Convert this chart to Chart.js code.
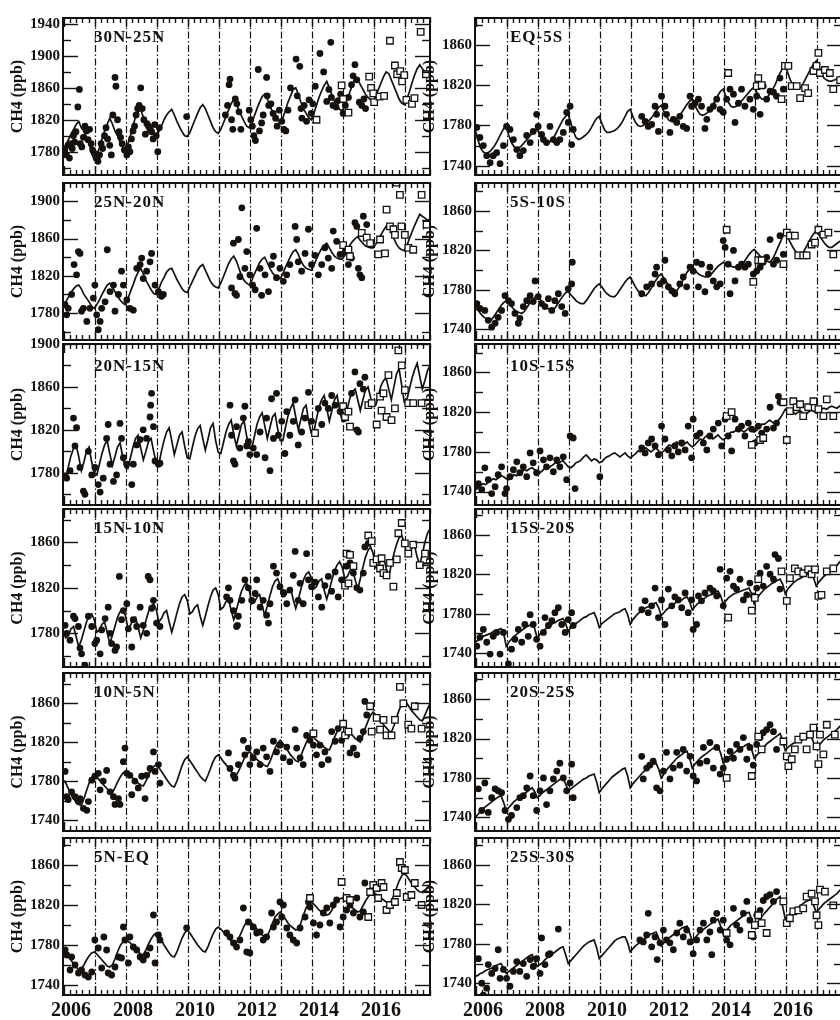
<!DOCTYPE html>
<html>
<head>
<meta charset="utf-8">
<script src="https://cdn.jsdelivr.net/npm/chart.js@4.4.1/dist/chart.umd.min.js"></script>
<style>
  html, body { margin: 0; padding: 0; background: #fff; width: 840px; height: 1020px; overflow: hidden; }
  #stage { position: relative; width: 840px; height: 1020px; overflow: hidden; }
  #stage canvas { position: absolute; }
</style>
</head>
<body>
<div id="stage"></div>
<script>
// ---- shared axis values -------------------------------------------------
const MODEL_START = 2005.75;               // first monthly model value (Oct 2005)
const xLabelYears = [2006, 2008, 2010, 2012, 2014, 2016];
const seasonLines = [2006.77, 2007.77, 2008.77, 2009.77, 2010.77, 2011.77, 2012.77, 2013.77, 2014.77, 2015.77, 2016.77];
const yTicksTall   = [1780, 1820, 1860, 1900, 1940];
const yTicksUpper  = [1780, 1820, 1860, 1900];
const yTicksShort  = [1780, 1820, 1860];
const yTicksLower  = [1740, 1780, 1820, 1860];

// ---- 30N-25N ------------------------------------------------------------
const model30N25N = [
  1783,1788,1795,1802,1808,1814,1818,1810,1806,1798,1790,1778,
  1770,1776,1785,1796,1806,1814,1822,1815,1806,1800,1792,1786,
  1782,1790,1800,1812,1824,1830,1833,1823,1815,1812,1808,1802,
  1799,1805,1812,1820,1826,1830,1833,1826,1818,1811,1805,1800,
  1799,1804,1812,1820,1828,1835,1839,1834,1826,1818,1810,1805,
  1803,1808,1816,1824,1832,1840,1846,1840,1832,1825,1818,1812,
  1810,1816,1825,1834,1842,1849,1852,1846,1838,1830,1824,1819,
  1816,1822,1832,1842,1850,1858,1860,1852,1842,1834,1828,1823,
  1820,1828,1838,1848,1856,1863,1868,1860,1851,1843,1837,1833,
  1831,1838,1846,1855,1864,1873,1870,1864,1858,1852,1848,1845,
  1843,1850,1858,1866,1874,1880,1878,1870,1862,1854,1846,1841,
  1839,1846,1855,1866,1876,1884,1889,1884,1880,1877,1876];
const dots30N25N = [
  [2005.80,1782],[2005.85,1776],[2005.90,1788],[2005.95,1772],[2006.00,1790],[2006.04,1784],[2006.08,1800],[2006.12,1792],
  [2006.16,1805],[2006.22,1836],[2006.27,1858],[2006.30,1790],[2006.35,1786],[2006.40,1798],[2006.45,1812],[2006.50,1806],
  [2006.55,1795],[2006.60,1808],[2006.65,1790],[2006.70,1782],[2006.75,1778],[2006.82,1772],[2006.87,1768],[2006.92,1776],
  [2006.97,1790],[2007.02,1784],[2007.08,1800],[2007.13,1810],[2007.18,1796],[2007.25,1788],[2007.30,1776],[2007.35,1826],
  [2007.42,1873],[2007.45,1862],[2007.50,1820],[2007.55,1805],[2007.60,1798],[2007.65,1790],[2007.72,1782],[2007.80,1776],
  [2007.85,1786],[2007.90,1780],[2007.95,1796],[2008.00,1806],[2008.05,1812],[2008.10,1826],[2008.15,1834],[2008.20,1838],
  [2008.25,1860],[2008.30,1834],[2008.35,1820],[2008.40,1802],[2008.45,1815],[2008.50,1812],[2008.55,1808],[2008.60,1805],
  [2008.65,1796],[2008.70,1814],[2008.75,1800],[2008.80,1780],[2008.85,1810],[2009.73,1824],
  [2010.98,1826],[2011.05,1838],[2011.10,1864],[2011.13,1871],[2011.18,1820],[2011.22,1808],[2011.30,1846],[2011.35,1840],
  [2011.42,1830],[2011.48,1808],[2011.75,1832],[2011.80,1820],[2011.85,1812],[2011.90,1800],[2011.95,1794],[2012.04,1883],
  [2012.08,1806],[2012.15,1816],[2012.20,1826],[2012.31,1873],[2012.33,1850],[2012.38,1838],[2012.45,1840],[2012.52,1828],
  [2012.60,1822],[2012.65,1812],[2012.72,1832],[2012.80,1818],[2012.87,1808],[2012.93,1806],[2013.00,1832],[2013.08,1860],
  [2013.26,1896],[2013.38,1887],[2013.30,1850],[2013.42,1834],[2013.45,1822],[2013.52,1838],[2013.60,1818],[2013.68,1845],
  [2013.75,1828],[2013.80,1840],[2013.88,1862],[2014.03,1903],[2014.38,1917],[2014.15,1880],[2014.25,1843],[2014.32,1858],
  [2014.40,1848],[2014.45,1838],[2014.55,1836],[2014.62,1844],[2014.70,1852],[2014.78,1828],[2014.85,1838],[2014.95,1848],
  [2015.05,1864],[2015.10,1875],[2015.16,1889],[2015.22,1870],[2015.30,1842],[2015.38,1838],[2015.45,1846],[2015.50,1834]];
const squares30N25N = [
  [2013.92,1820],[2014.73,1863],[2014.78,1846],[2014.95,1829],[2015.62,1874],[2015.68,1860],[2015.75,1853],[2015.78,1842],
  [2015.95,1849],[2016.29,1919],[2016.10,1850],[2016.45,1888],[2016.52,1877],[2016.62,1881],[2016.68,1868],[2016.75,1876],
  [2016.82,1845],[2017.00,1840],[2017.08,1847],[2017.28,1930],[2017.45,1877]];

// ---- 25N-20N ------------------------------------------------------------
const model25N20N = [
  1789,1792,1797,1802,1806,1809,1810,1806,1800,1796,1792,1787,
  1785,1789,1794,1800,1805,1810,1812,1808,1803,1798,1794,1791,
  1789,1795,1803,1810,1818,1824,1828,1822,1815,1810,1805,1801,
  1800,1806,1813,1818,1824,1827,1828,1822,1816,1811,1806,1803,
  1802,1808,1814,1820,1826,1830,1832,1826,1820,1814,1810,1808,
  1807,1812,1819,1826,1833,1838,1841,1836,1828,1820,1815,1812,
  1810,1815,1822,1828,1834,1838,1840,1834,1828,1823,1820,1818,
  1817,1822,1829,1835,1841,1846,1848,1843,1836,1831,1828,1827,
  1826,1831,1838,1844,1849,1853,1855,1850,1845,1841,1839,1838,
  1838,1842,1848,1853,1857,1860,1862,1858,1855,1852,1851,1850,
  1850,1854,1859,1864,1869,1873,1875,1868,1860,1854,1850,1848,
  1847,1852,1860,1867,1874,1880,1886,1884,1882,1880,1880];
const dots25N20N = [
  [2005.81,1789],[2005.86,1778],[2005.91,1785],[2006.02,1800],[2006.10,1832],[2006.18,1821],[2006.24,1846],[2006.29,1844],
  [2006.34,1782],[2006.40,1785],[2006.51,1771],[2006.61,1785],[2006.72,1796],[2006.77,1810],[2006.83,1778],[2006.88,1762],
  [2006.94,1771],[2006.99,1785],[2007.10,1792],[2007.17,1848],[2007.26,1803],[2007.37,1810],[2007.42,1782],[2007.53,1800],
  [2007.63,1825],[2007.69,1810],[2007.80,1794],[2007.90,1785],[2008.01,1783],[2008.12,1828],[2008.23,1832],[2008.28,1839],
  [2008.33,1817],[2008.44,1825],[2008.55,1835],[2008.60,1844],[2008.71,1810],[2008.82,1803],[2008.92,1798],[2008.98,1800],
  [2011.18,1807],[2011.29,1801],[2011.34,1799],[2011.24,1855],[2011.40,1859],[2011.45,1819],[2011.51,1893],[2011.61,1828],
  [2011.67,1846],[2011.77,1821],[2011.86,1810],[2011.94,1805],[2011.99,1871],[2012.10,1828],[2012.15,1799],[2012.26,1821],
  [2012.37,1803],[2012.47,1832],[2012.53,1841],[2012.63,1818],[2012.74,1828],[2012.85,1814],[2012.96,1821],[2013.06,1832],
  [2013.23,1873],[2013.28,1859],[2013.33,1835],[2013.44,1825],[2013.55,1844],[2013.66,1870],[2013.76,1832],[2013.87,1842],
  [2013.98,1821],[2014.09,1832],[2014.19,1850],[2014.30,1839],[2014.41,1828],[2014.46,1868],[2014.57,1857],[2014.68,1843],
  [2014.84,1846],[2014.95,1832],[2015.05,1839],[2015.16,1877],[2015.22,1873],[2015.27,1828],[2015.32,1821],[2015.38,1818],
  [2015.43,1884],[2015.54,1875]];
const squares25N20N = [
  [2014.78,1853],[2014.95,1848],[2015.00,1841],[2015.38,1866],[2015.54,1861],[2015.65,1855],[2015.91,1843],[2015.97,1859],
  [2016.13,1844],[2016.18,1891],[2016.29,1873],[2016.40,1870],[2016.45,1864],[2016.50,1920],[2016.61,1907],[2016.66,1873],
  [2016.77,1864],[2016.88,1850],[2017.04,1848],[2017.31,1907],[2017.47,1875]];

// ---- 20N-15N ------------------------------------------------------------
const model20N15N = [
  1778,1776,1786,1796,1803,1806,1795,1782,1790,1800,1804,1790,
  1780,1778,1788,1798,1806,1810,1798,1787,1795,1804,1808,1795,
  1785,1784,1794,1804,1812,1815,1803,1792,1800,1809,1812,1800,
  1789,1788,1800,1810,1818,1822,1810,1797,1806,1815,1818,1805,
  1794,1793,1804,1814,1821,1824,1812,1801,1811,1822,1826,1810,
  1799,1798,1808,1818,1825,1829,1816,1805,1815,1825,1828,1814,
  1803,1803,1814,1825,1832,1836,1824,1812,1822,1832,1835,1821,
  1810,1810,1822,1833,1840,1845,1832,1820,1830,1840,1843,1828,
  1817,1818,1830,1841,1848,1852,1840,1828,1838,1848,1852,1838,
  1828,1828,1840,1850,1856,1858,1848,1838,1848,1857,1860,1850,
  1842,1843,1852,1861,1866,1868,1858,1848,1860,1872,1877,1862,
  1846,1848,1858,1868,1876,1882,1870,1858,1866,1875,1880];
const dots20N15N = [
  [2005.81,1777],[2005.86,1775],[2005.97,1782],[2006.08,1831],[2006.13,1805],[2006.18,1822],[2006.29,1785],[2006.40,1763],
  [2006.45,1760],[2006.56,1800],[2006.67,1778],[2006.77,1785],[2006.88,1769],[2006.94,1762],[2007.04,1775],[2007.15,1812],
  [2007.20,1825],[2007.26,1788],[2007.37,1772],[2007.47,1778],[2007.58,1826],[2007.63,1812],[2007.69,1794],[2007.80,1788],
  [2007.96,1769],[2008.01,1788],[2008.12,1806],[2008.23,1811],[2008.33,1820],[2008.44,1812],[2008.55,1832],[2008.57,1843],
  [2008.60,1854],[2008.66,1823],[2008.71,1791],[2008.82,1788],[2008.87,1789],
  [2011.13,1843],[2011.18,1815],[2011.24,1791],[2011.29,1788],[2011.34,1823],[2011.45,1803],[2011.56,1831],[2011.61,1842],
  [2011.67,1805],[2011.72,1809],[2011.77,1797],[2011.88,1803],[2011.99,1797],[2012.10,1818],[2012.26,1794],[2012.31,1831],
  [2012.42,1782],[2012.47,1849],[2012.53,1812],[2012.63,1854],[2012.69,1815],[2012.80,1828],[2012.90,1798],[2012.96,1837],
  [2013.06,1815],[2013.17,1828],[2013.23,1848],[2013.33,1806],[2013.44,1818],[2013.55,1831],[2013.66,1855],[2013.76,1828],
  [2013.87,1818],[2013.98,1840],[2014.09,1825],[2014.19,1845],[2014.30,1840],[2014.41,1852],[2014.52,1843],[2014.68,1837],
  [2014.84,1831],[2014.95,1837],[2015.05,1854],[2015.16,1874],[2015.22,1820],[2015.27,1818],[2015.32,1863],[2015.43,1858],
  [2015.48,1869]];
const squares20N15N = [
  [2013.87,1817],[2014.78,1842],[2014.84,1832],[2014.95,1837],[2015.00,1823],[2015.59,1843],[2015.70,1845],[2015.86,1825],
  [2015.97,1851],[2016.02,1838],[2016.08,1854],[2016.18,1832],[2016.24,1871],[2016.34,1829],[2016.45,1840],[2016.56,1894],
  [2016.67,1880],[2016.77,1857],[2016.88,1845],[2017.04,1845],[2017.31,1845]];

// ---- 15N-10N ------------------------------------------------------------
const model15N10N = [
  1780,1776,1778,1784,1786,1777,1768,1774,1782,1790,1795,1797,
  1792,1781,1783,1788,1790,1781,1771,1778,1786,1794,1799,1801,
  1796,1785,1787,1792,1794,1785,1776,1783,1791,1799,1804,1806,
  1801,1790,1793,1798,1800,1790,1781,1789,1798,1806,1812,1814,
  1809,1797,1799,1803,1805,1795,1787,1795,1804,1812,1818,1820,
  1814,1801,1803,1808,1810,1800,1792,1800,1809,1817,1822,1824,
  1818,1806,1807,1812,1814,1804,1796,1804,1813,1821,1826,1828,
  1822,1812,1813,1818,1820,1810,1802,1810,1819,1827,1832,1834,
  1829,1819,1821,1826,1828,1818,1810,1818,1827,1835,1840,1843,
  1838,1828,1830,1835,1837,1827,1819,1828,1838,1847,1853,1856,
  1850,1838,1840,1845,1847,1837,1830,1840,1850,1858,1864,1866,
  1860,1848,1850,1855,1857,1847,1840,1850,1860,1868,1872];
const dots15N10N = [
  [2005.81,1787],[2005.86,1780],[2005.97,1774],[2006.08,1795],[2006.13,1793],[2006.24,1786],[2006.29,1767],[2006.34,1762],
  [2006.45,1752],[2006.56,1795],[2006.67,1786],[2006.77,1771],[2006.83,1774],[2006.94,1762],[2006.99,1783],[2007.10,1793],
  [2007.20,1803],[2007.26,1780],[2007.31,1771],[2007.42,1765],[2007.47,1768],[2007.56,1830],[2007.63,1792],[2007.69,1800],
  [2007.80,1806],[2007.85,1784],[2007.96,1768],[2008.01,1792],[2008.12,1786],[2008.23,1803],[2008.33,1787],[2008.44,1780],
  [2008.49,1830],[2008.55,1827],[2008.60,1802],[2008.66,1809],[2008.76,1789],[2008.87,1786],
  [2011.02,1812],[2011.08,1820],[2011.13,1809],[2011.24,1800],[2011.34,1786],[2011.37,1787],[2011.40,1795],[2011.51,1809],
  [2011.61,1827],[2011.72,1820],[2011.83,1809],[2011.94,1815],[2011.99,1827],[2012.10,1803],[2012.20,1809],[2012.31,1796],
  [2012.37,1789],[2012.42,1806],[2012.53,1839],[2012.63,1833],[2012.74,1821],[2012.85,1816],[2012.96,1806],[2013.06,1818],
  [2013.17,1831],[2013.23,1852],[2013.33,1809],[2013.39,1824],[2013.49,1806],[2013.60,1850],[2013.66,1827],[2013.76,1821],
  [2013.87,1825],[2013.98,1812],[2014.09,1803],[2014.19,1822],[2014.30,1830],[2014.41,1817],[2014.52,1834],[2014.62,1812],
  [2014.73,1827],[2014.89,1839],[2015.00,1842],[2015.11,1833],[2015.22,1820],[2015.32,1818],[2015.43,1833],[2015.48,1856],
  [2015.59,1859]];
const squares15N10N = [
  [2014.84,1822],[2014.89,1850],[2014.95,1824],[2015.00,1849],[2015.11,1839],[2015.59,1866],[2015.70,1861],[2015.75,1842],
  [2015.86,1845],[2015.97,1837],[2016.02,1846],[2016.08,1833],[2016.18,1831],[2016.29,1842],[2016.40,1821],[2016.51,1845],
  [2016.56,1868],[2016.67,1877],[2016.77,1859],[2016.88,1850],[2017.04,1858],[2017.25,1840],[2017.42,1850]];

// ---- 10N-5N -------------------------------------------------------------
const model10N5N = [
  1781,1778,1772,1766,1762,1758,1756,1755,1762,1770,1778,1784,
  1786,1784,1781,1778,1775,1772,1770,1768,1773,1779,1784,1788,
  1790,1788,1786,1783,1780,1778,1776,1775,1780,1786,1791,1795,
  1797,1794,1790,1786,1782,1778,1775,1774,1780,1788,1796,1802,
  1805,1801,1797,1793,1789,1785,1782,1780,1786,1793,1800,1805,
  1807,1804,1800,1797,1793,1790,1787,1786,1791,1797,1803,1808,
  1810,1808,1805,1802,1800,1798,1796,1795,1800,1807,1814,1819,
  1822,1819,1815,1811,1807,1804,1801,1800,1806,1813,1819,1824,
  1827,1825,1822,1820,1818,1815,1813,1812,1818,1825,1831,1836,
  1839,1836,1833,1830,1827,1824,1822,1820,1827,1835,1842,1848,
  1851,1848,1845,1841,1838,1835,1832,1830,1837,1845,1853,1859,
  1863,1860,1856,1852,1849,1846,1843,1842,1848,1854,1860];
const dots10N5N = [
  [2005.81,1790],[2005.86,1764],[2005.91,1761],[2006.02,1769],[2006.13,1764],[2006.24,1759],[2006.29,1762],[2006.40,1752],
  [2006.51,1750],[2006.56,1759],[2006.67,1781],[2006.77,1785],[2006.88,1788],[2006.94,1771],[2007.04,1780],[2007.15,1791],
  [2007.26,1769],[2007.37,1764],[2007.42,1756],[2007.53,1762],[2007.58,1756],[2007.69,1800],[2007.74,1814],[2007.80,1788],
  [2007.90,1786],[2007.96,1766],[2008.06,1780],[2008.17,1773],[2008.28,1785],[2008.39,1762],[2008.44,1786],[2008.55,1793],
  [2008.66,1810],[2008.71,1790],[2008.82,1797],[2008.87,1778],
  [2011.08,1809],[2011.13,1793],[2011.24,1786],[2011.29,1783],[2011.40,1797],[2011.56,1822],[2011.61,1807],[2011.72,1814],
  [2011.77,1797],[2011.88,1804],[2011.99,1810],[2012.10,1797],[2012.20,1814],[2012.31,1805],[2012.42,1790],[2012.53,1821],
  [2012.63,1810],[2012.74,1817],[2012.85,1804],[2012.96,1815],[2013.06,1800],[2013.23,1833],[2013.28,1814],[2013.39,1804],
  [2013.49,1797],[2013.60,1827],[2013.71,1822],[2013.82,1817],[2013.92,1807],[2014.03,1817],[2014.09,1797],[2014.19,1810],
  [2014.30,1802],[2014.41,1831],[2014.52,1821],[2014.62,1834],[2014.73,1822],[2014.89,1827],[2015.00,1809],[2015.11,1814],
  [2015.22,1807],[2015.32,1824],[2015.43,1831],[2015.48,1862],[2015.54,1848]];
const squares10N5N = [
  [2013.82,1829],[2014.78,1839],[2014.84,1827],[2014.95,1831],[2015.65,1857],[2015.70,1831],[2015.86,1845],[2015.97,1833],
  [2016.08,1843],[2016.18,1827],[2016.34,1827],[2016.45,1843],[2016.61,1877],[2016.72,1860],[2016.88,1838],[2016.98,1834],
  [2017.09,1857],[2017.31,1834]];

// ---- 5N-EQ --------------------------------------------------------------
const model5NEQ = [
  1778,1775,1770,1765,1761,1758,1755,1756,1760,1765,1769,1772,
  1773,1771,1768,1765,1762,1759,1758,1760,1766,1773,1779,1783,
  1785,1784,1782,1779,1776,1773,1771,1770,1775,1781,1786,1790,
  1792,1789,1785,1780,1776,1772,1769,1768,1773,1780,1787,1792,
  1795,1792,1788,1784,1780,1777,1774,1773,1778,1785,1791,1796,
  1798,1796,1793,1790,1787,1784,1782,1782,1787,1793,1799,1803,
  1805,1802,1799,1796,1793,1790,1788,1789,1795,1802,1808,1811,
  1813,1810,1806,1802,1799,1797,1795,1796,1802,1810,1817,1821,
  1823,1821,1818,1815,1813,1811,1810,1811,1815,1820,1824,1826,
  1827,1825,1822,1819,1817,1815,1813,1814,1819,1824,1828,1831,
  1832,1831,1829,1827,1825,1823,1822,1824,1830,1837,1844,1849,
  1852,1849,1845,1841,1838,1835,1833,1833,1835,1837,1838];
const dots5NEQ = [
  [2005.81,1775],[2005.86,1770],[2005.97,1755],[2006.02,1768],[2006.13,1760],[2006.24,1752],[2006.34,1755],[2006.45,1750],
  [2006.56,1748],[2006.67,1753],[2006.77,1785],[2006.88,1777],[2006.99,1757],[2007.06,1788],[2007.15,1775],[2007.20,1752],
  [2007.31,1750],[2007.42,1758],[2007.53,1768],[2007.63,1767],[2007.69,1798],[2007.74,1785],[2007.85,1762],[2007.90,1788],
  [2008.01,1778],[2008.12,1775],[2008.23,1768],[2008.33,1765],[2008.44,1770],[2008.55,1777],[2008.66,1810],[2008.71,1762],
  [2008.82,1790],[2008.87,1785],[2009.73,1797],
  [2011.02,1792],[2011.13,1788],[2011.24,1782],[2011.34,1778],[2011.45,1785],[2011.56,1817],[2011.67,1773],[2011.72,1803],
  [2011.77,1772],[2011.88,1798],[2011.99,1792],[2012.10,1793],[2012.20,1785],[2012.31,1788],[2012.47,1812],[2012.53,1798],
  [2012.63,1803],[2012.74,1823],[2012.80,1808],[2012.85,1820],[2012.96,1797],[2013.06,1790],[2013.17,1785],[2013.28,1782],
  [2013.39,1797],[2013.55,1808],[2013.66,1823],[2013.71,1818],[2013.82,1802],[2013.92,1790],[2014.03,1800],[2014.14,1812],
  [2014.25,1817],[2014.35,1802],[2014.46,1820],[2014.57,1825],[2014.68,1798],[2014.78,1808],[2014.89,1815],[2015.00,1820],
  [2015.11,1812],[2015.22,1827],[2015.32,1808],[2015.43,1813],[2015.48,1842]];
const squares5NEQ = [
  [2013.71,1827],[2014.73,1843],[2014.89,1827],[2015.00,1825],[2015.59,1808],[2015.65,1833],[2015.75,1840],[2015.86,1837],
  [2015.91,1827],[2016.02,1842],[2016.08,1838],[2016.18,1815],[2016.29,1820],[2016.45,1823],[2016.51,1832],[2016.61,1863],
  [2016.67,1857],[2016.77,1855],[2016.83,1828],[2016.98,1830],[2017.09,1842],[2017.31,1820]];

// ---- EQ-5S --------------------------------------------------------------
const modelEQ5S = [
  1776,1766,1758,1754,1752,1753,1755,1758,1762,1767,1772,1777,
  1779,1770,1763,1759,1757,1758,1760,1763,1766,1769,1772,1775,
  1776,1771,1766,1763,1762,1764,1767,1771,1776,1781,1786,1789,
  1791,1782,1774,1768,1766,1767,1769,1771,1774,1778,1783,1787,
  1789,1782,1776,1773,1773,1774,1775,1777,1780,1784,1789,1794,
  1796,1789,1783,1780,1779,1780,1782,1784,1787,1790,1794,1798,
  1800,1794,1789,1785,1784,1785,1787,1790,1793,1797,1801,1804,
  1806,1800,1795,1791,1790,1791,1793,1797,1801,1805,1810,1814,
  1816,1809,1803,1799,1798,1799,1801,1804,1807,1810,1813,1816,
  1818,1813,1809,1806,1806,1808,1811,1815,1820,1826,1832,1837,
  1839,1832,1825,1820,1817,1816,1818,1822,1827,1832,1837,1841,
  1844,1838,1832,1827,1825,1824,1824,1825,1826,1828,1830];
const dotsEQ5S = [
  [2005.80,1778],[2005.90,1768],[2006.01,1760],[2006.12,1750],[2006.23,1743],[2006.33,1750],[2006.44,1753],[2006.55,1742],
  [2006.66,1760],[2006.76,1779],[2006.87,1776],[2006.98,1766],[2007.09,1756],[2007.19,1750],[2007.30,1755],[2007.41,1770],
  [2007.52,1763],[2007.62,1774],[2007.73,1791],[2007.78,1779],[2007.89,1771],[2007.95,1766],[2008.05,1763],[2008.16,1779],
  [2008.27,1766],[2008.38,1763],[2008.48,1766],[2008.59,1773],[2008.70,1793],[2008.75,1783],[2008.81,1799],[2008.86,1761],
  [2008.91,1776],
  [2011.12,1789],[2011.23,1784],[2011.33,1779],[2011.44,1781],[2011.55,1799],[2011.60,1791],[2011.66,1774],[2011.76,1809],
  [2011.87,1799],[2011.92,1791],[2012.03,1773],[2012.14,1786],[2012.25,1783],[2012.35,1789],[2012.46,1779],[2012.57,1777],
  [2012.68,1809],[2012.73,1799],[2012.84,1802],[2012.95,1806],[2013.05,1799],[2013.16,1777],[2013.22,1786],[2013.32,1796],
  [2013.43,1799],[2013.54,1806],[2013.65,1796],[2013.75,1793],[2013.86,1806],[2013.97,1816],[2014.08,1811],[2014.13,1783],
  [2014.24,1802],[2014.34,1816],[2014.45,1799],[2014.61,1806],[2014.72,1796],[2014.83,1809],[2014.94,1791],[2015.04,1819],
  [2015.15,1806],[2015.26,1814],[2015.37,1813],[2015.47,1809],[2015.58,1827],[2015.69,1816]];
const squaresEQ5S = [
  [2013.91,1832],[2014.83,1819],[2014.88,1827],[2014.99,1820],[2015.63,1806],[2015.74,1839],[2015.85,1839],[2015.96,1819],
  [2016.12,1819],[2016.23,1807],[2016.39,1817],[2016.49,1812],[2016.66,1834],[2016.76,1839],[2016.82,1852],[2016.87,1832],
  [2017.03,1835],[2017.19,1832],[2017.30,1816],[2017.52,1825]];

// ---- 5S-10S -------------------------------------------------------------
const model5S10S = [
  1764,1760,1756,1753,1751,1750,1749,1752,1756,1760,1764,1767,
  1769,1766,1763,1760,1758,1757,1756,1758,1762,1766,1769,1772,
  1774,1771,1767,1764,1761,1760,1759,1762,1766,1770,1774,1777,
  1778,1775,1772,1769,1767,1766,1766,1769,1773,1777,1781,1784,
  1786,1783,1779,1776,1774,1773,1773,1776,1780,1784,1788,1791,
  1793,1788,1783,1779,1776,1775,1774,1777,1781,1786,1790,1794,
  1796,1792,1788,1784,1781,1780,1779,1783,1788,1793,1798,1801,
  1803,1800,1797,1795,1794,1793,1793,1795,1798,1801,1804,1806,
  1808,1806,1805,1804,1803,1803,1803,1805,1808,1812,1816,1819,
  1821,1818,1815,1812,1810,1809,1808,1811,1816,1822,1828,1834,
  1838,1833,1828,1823,1819,1816,1815,1818,1823,1828,1833,1837,
  1840,1836,1832,1828,1825,1823,1823,1825,1827,1829,1830];
const dots5S10S = [
  [2005.80,1766],[2005.90,1761],[2006.06,1759],[2006.17,1749],[2006.28,1742],[2006.39,1746],[2006.49,1752],[2006.60,1759],
  [2006.71,1774],[2006.82,1769],[2006.92,1766],[2007.03,1756],[2007.14,1746],[2007.19,1751],[2007.30,1763],[2007.41,1769],
  [2007.52,1774],[2007.62,1768],[2007.68,1789],[2007.78,1773],[2007.89,1766],[2008.00,1763],[2008.11,1771],[2008.22,1759],
  [2008.32,1769],[2008.43,1776],[2008.54,1763],[2008.65,1756],[2008.75,1781],[2008.86,1786],[2008.88,1808],
  [2011.12,1776],[2011.28,1783],[2011.44,1786],[2011.55,1796],[2011.60,1803],[2011.71,1786],[2011.82,1789],[2011.87,1810],
  [2011.98,1783],[2012.09,1779],[2012.19,1776],[2012.35,1786],[2012.46,1793],[2012.57,1783],[2012.68,1803],[2012.78,1799],
  [2012.89,1808],[2012.95,1783],[2013.05,1806],[2013.16,1778],[2013.27,1796],[2013.32,1803],[2013.43,1789],[2013.54,1783],
  [2013.65,1786],[2013.75,1830],[2013.81,1823],[2013.91,1806],[2013.97,1776],[2014.08,1820],[2014.13,1789],[2014.24,1803],
  [2014.34,1806],[2014.45,1803],[2014.56,1806],[2014.72,1796],[2014.83,1799],[2014.94,1803],[2015.04,1808],[2015.15,1813],
  [2015.26,1831],[2015.37,1806],[2015.47,1810],[2015.58,1835],[2015.69,1816]];
const squares5S10S = [
  [2013.86,1841],[2014.72,1788],[2014.88,1810],[2014.99,1810],[2015.69,1806],[2015.80,1838],[2015.90,1835],[2016.06,1835],
  [2016.17,1815],[2016.33,1815],[2016.44,1815],[2016.60,1826],[2016.71,1828],[2016.82,1841],[2016.98,1836],[2017.14,1838],
  [2017.30,1816]];

// ---- 10S-15S ------------------------------------------------------------
const model10S15S = [
  1745,1744,1746,1748,1747,1749,1751,1753,1752,1754,1756,1755,
  1753,1752,1754,1757,1756,1758,1760,1762,1761,1763,1764,1762,
  1760,1759,1761,1764,1763,1765,1767,1769,1768,1770,1771,1768,
  1765,1764,1766,1769,1770,1772,1775,1777,1774,1771,1773,1772,
  1769,1770,1773,1775,1776,1778,1779,1777,1775,1777,1779,1776,
  1774,1776,1778,1781,1780,1782,1784,1782,1780,1782,1784,1781,
  1779,1781,1784,1787,1786,1788,1790,1788,1786,1788,1790,1787,
  1785,1787,1790,1793,1792,1795,1797,1795,1793,1795,1797,1794,
  1792,1794,1797,1800,1800,1802,1804,1802,1800,1802,1804,1801,
  1800,1802,1805,1808,1808,1810,1812,1810,1808,1811,1814,1818,
  1823,1821,1819,1820,1818,1820,1821,1819,1818,1820,1822,1821,
  1819,1821,1823,1824,1823,1825,1826,1825,1824,1826,1828];
const dots10S15S = [
  [2005.76,1745],[2005.85,1748],[2005.96,1742],[2006.06,1764],[2006.17,1752],[2006.28,1738],[2006.39,1745],[2006.49,1757],
  [2006.60,1765],[2006.71,1738],[2006.76,1743],[2006.87,1755],[2006.98,1762],[2007.09,1770],[2007.19,1759],[2007.30,1765],
  [2007.41,1755],[2007.52,1779],[2007.62,1769],[2007.73,1759],[2007.84,1781],[2007.95,1772],[2008.05,1765],[2008.16,1774],
  [2008.27,1760],[2008.38,1772],[2008.48,1765],[2008.59,1775],[2008.70,1752],[2008.81,1796],[2008.91,1794],[2008.97,1743],
  [2009.77,1755],
  [2011.12,1784],[2011.23,1779],[2011.33,1789],[2011.44,1793],[2011.55,1786],[2011.66,1777],[2011.76,1806],[2011.87,1793],
  [2011.98,1782],[2012.09,1776],[2012.19,1786],[2012.30,1780],[2012.41,1789],[2012.52,1782],[2012.62,1806],[2012.73,1774],
  [2012.78,1813],[2012.89,1796],[2013.00,1799],[2013.11,1789],[2013.22,1782],[2013.32,1796],[2013.43,1803],[2013.59,1809],
  [2013.70,1786],[2013.81,1813],[2013.91,1796],[2014.02,1781],[2014.13,1813],[2014.24,1803],[2014.34,1806],[2014.45,1796],
  [2014.56,1809],[2014.67,1803],[2014.77,1789],[2014.88,1806],[2014.99,1799],[2015.15,1803],[2015.26,1825],[2015.37,1804],
  [2015.47,1809],[2015.53,1836],[2015.58,1830]];
const squares10S15S = [
  [2013.86,1816],[2014.02,1820],[2014.67,1787],[2014.94,1792],[2015.04,1794],[2015.69,1830],[2015.80,1792],[2015.90,1821],
  [2016.01,1831],[2016.12,1825],[2016.23,1828],[2016.33,1816],[2016.49,1825],[2016.66,1831],[2016.82,1823],[2016.98,1816],
  [2017.09,1833],[2017.30,1816]];

// ---- 15S-20S ------------------------------------------------------------
const model15S20S = [
  1751,1753,1755,1757,1758,1759,1760,1762,1763,1764,1765,1760,
  1747,1751,1754,1757,1759,1761,1763,1765,1767,1768,1770,1765,
  1755,1759,1762,1764,1766,1768,1770,1771,1773,1774,1775,1770,
  1762,1766,1768,1770,1772,1774,1776,1777,1779,1780,1781,1775,
  1766,1770,1772,1774,1776,1778,1780,1781,1782,1784,1785,1779,
  1769,1774,1777,1780,1782,1784,1786,1787,1788,1790,1791,1786,
  1778,1781,1784,1786,1788,1790,1792,1793,1794,1796,1797,1792,
  1784,1787,1790,1792,1794,1796,1798,1799,1800,1802,1803,1798,
  1790,1793,1796,1798,1800,1801,1802,1803,1804,1805,1806,1800,
  1790,1795,1799,1802,1805,1807,1809,1811,1812,1814,1815,1810,
  1800,1805,1808,1811,1813,1815,1816,1818,1819,1821,1822,1816,
  1808,1812,1815,1818,1820,1822,1824,1826,1829,1832,1835];
const dots15S20S = [
  [2005.80,1747],[2005.90,1756],[2006.01,1764],[2006.12,1751],[2006.23,1739],[2006.33,1757],[2006.44,1761],[2006.55,1739],
  [2006.66,1761],[2006.82,1729],[2006.92,1744],[2007.03,1754],[2007.14,1764],[2007.25,1751],[2007.35,1769],[2007.46,1757],
  [2007.52,1779],[2007.62,1769],[2007.73,1754],[2007.84,1747],[2007.95,1761],[2008.00,1776],[2008.11,1768],[2008.22,1773],
  [2008.32,1781],[2008.43,1786],[2008.54,1769],[2008.65,1761],[2008.75,1774],[2008.86,1781],[2008.91,1768],
  [2011.12,1784],[2011.23,1793],[2011.33,1781],[2011.44,1788],[2011.55,1806],[2011.66,1776],[2011.76,1794],[2011.87,1769],
  [2011.98,1805],[2012.09,1788],[2012.19,1797],[2012.30,1794],[2012.41,1786],[2012.52,1801],[2012.62,1781],[2012.73,1794],
  [2012.78,1764],[2012.89,1769],[2012.95,1798],[2013.05,1793],[2013.16,1801],[2013.32,1806],[2013.43,1803],[2013.54,1798],
  [2013.65,1825],[2013.75,1788],[2013.86,1816],[2013.97,1823],[2014.08,1808],[2014.18,1805],[2014.29,1815],[2014.40,1794],
  [2014.51,1799],[2014.61,1811],[2014.72,1798],[2014.83,1806],[2014.94,1821],[2015.04,1808],[2015.15,1828],[2015.26,1820],
  [2015.37,1815],[2015.42,1840],[2015.53,1836],[2015.58,1805]];
const squares15S20S = [
  [2013.91,1776],[2014.67,1783],[2014.77,1796],[2014.88,1815],[2015.63,1823],[2015.80,1793],[2015.90,1816],[2016.06,1826],
  [2016.17,1823],[2016.33,1821],[2016.49,1825],[2016.60,1820],[2016.71,1825],[2016.82,1798],[2016.92,1799],[2017.09,1823],
  [2017.30,1826]];

// ---- 20S-25S ------------------------------------------------------------
const model20S25S = [
  1740,1743,1746,1749,1751,1753,1755,1757,1759,1761,1762,1755,
  1747,1750,1753,1756,1758,1760,1762,1764,1766,1768,1770,1766,
  1760,1762,1765,1767,1769,1771,1773,1775,1777,1779,1780,1774,
  1767,1769,1771,1773,1775,1777,1779,1780,1782,1783,1784,1776,
  1765,1769,1772,1775,1778,1781,1783,1785,1787,1789,1790,1782,
  1770,1774,1777,1780,1783,1786,1788,1790,1792,1794,1795,1789,
  1780,1784,1788,1791,1794,1797,1800,1802,1804,1806,1807,1800,
  1790,1794,1797,1800,1802,1804,1806,1808,1810,1811,1812,1805,
  1795,1798,1801,1803,1805,1807,1809,1811,1812,1814,1815,1809,
  1800,1803,1806,1809,1812,1815,1817,1819,1821,1823,1825,1818,
  1808,1811,1813,1815,1816,1817,1818,1819,1820,1821,1822,1816,
  1810,1813,1816,1819,1821,1823,1825,1827,1829,1832,1834];
const dots20S25S = [
  [2005.85,1769],[2005.96,1747],[2006.06,1775],[2006.17,1745],[2006.28,1760],[2006.39,1769],[2006.49,1767],[2006.60,1765],
  [2006.71,1747],[2006.82,1738],[2006.92,1742],[2007.09,1750],[2007.19,1760],[2007.30,1762],[2007.41,1770],[2007.52,1782],
  [2007.62,1762],[2007.73,1747],[2007.84,1767],[2007.95,1780],[2008.05,1753],[2008.16,1767],[2008.27,1779],[2008.38,1787],
  [2008.48,1795],[2008.59,1780],[2008.70,1767],[2008.81,1775],[2008.86,1794],[2008.91,1760],
  [2011.12,1802],[2011.17,1779],[2011.28,1790],[2011.38,1793],[2011.49,1797],[2011.60,1770],[2011.71,1767],[2011.82,1787],
  [2011.92,1806],[2012.03,1779],[2012.14,1790],[2012.25,1806],[2012.35,1793],[2012.46,1809],[2012.57,1787],[2012.68,1802],
  [2012.78,1782],[2012.89,1777],[2013.00,1795],[2013.11,1811],[2013.22,1797],[2013.32,1816],[2013.43,1790],[2013.54,1811],
  [2013.65,1784],[2013.75,1790],[2013.86,1799],[2013.97,1807],[2014.08,1800],[2014.18,1814],[2014.29,1809],[2014.40,1821],
  [2014.51,1799],[2014.61,1811],[2014.72,1793],[2014.83,1814],[2014.94,1821],[2015.04,1826],[2015.15,1829],[2015.26,1834],
  [2015.37,1827],[2015.47,1809]];
const squares20S25S = [
  [2013.86,1780],[2014.67,1782],[2014.88,1822],[2014.99,1809],[2015.69,1817],[2015.80,1802],[2015.85,1792],[2015.96,1799],
  [2016.06,1809],[2016.17,1819],[2016.33,1822],[2016.44,1809],[2016.55,1824],[2016.66,1831],[2016.76,1812],[2016.82,1794],
  [2016.87,1824],[2016.98,1804],[2017.09,1834],[2017.35,1824]];

// ---- 25S-30S ------------------------------------------------------------
const model25S30S = [
  1747,1748,1750,1751,1753,1754,1755,1756,1758,1759,1760,1755,
  1750,1752,1754,1756,1758,1760,1762,1764,1766,1768,1769,1763,
  1757,1759,1761,1764,1766,1768,1770,1772,1774,1776,1777,1769,
  1760,1763,1766,1769,1772,1775,1778,1780,1782,1783,1784,1776,
  1765,1768,1771,1774,1777,1780,1783,1785,1786,1787,1787,1781,
  1772,1775,1778,1780,1782,1784,1786,1788,1790,1791,1792,1786,
  1778,1781,1784,1786,1788,1790,1792,1794,1796,1797,1798,1791,
  1783,1786,1789,1792,1794,1796,1798,1800,1802,1804,1805,1798,
  1790,1793,1796,1799,1801,1803,1805,1807,1809,1811,1812,1805,
  1797,1800,1804,1808,1811,1814,1817,1820,1823,1826,1828,1818,
  1805,1808,1811,1813,1815,1817,1819,1821,1823,1824,1825,1819,
  1812,1815,1818,1821,1823,1825,1827,1829,1831,1834,1836];
const dots25S30S = [
  [2005.85,1765],[2005.96,1740],[2006.01,1728],[2006.12,1735],[2006.17,1759],[2006.28,1750],[2006.39,1755],[2006.49,1774],
  [2006.55,1745],[2006.66,1754],[2006.76,1745],[2006.87,1737],[2006.98,1752],[2007.09,1762],[2007.19,1752],[2007.30,1760],
  [2007.41,1747],[2007.52,1764],[2007.62,1757],[2007.73,1765],[2007.84,1750],[2007.89,1786],[2008.00,1759],[2008.11,1769],
  [2008.16,1770],[2008.43,1795],
  [2011.06,1784],[2011.17,1782],[2011.28,1789],[2011.33,1811],[2011.44,1777],[2011.55,1787],[2011.62,1764],[2011.71,1781],
  [2011.82,1794],[2011.92,1784],[2012.03,1781],[2012.14,1774],[2012.25,1791],[2012.35,1801],[2012.46,1787],[2012.57,1794],
  [2012.68,1782],[2012.78,1770],[2012.89,1784],[2013.00,1794],[2013.11,1801],[2013.22,1784],[2013.32,1792],[2013.38,1769],
  [2013.43,1804],[2013.54,1811],[2013.65,1794],[2013.75,1804],[2013.86,1784],[2013.97,1779],[2014.08,1816],[2014.18,1799],
  [2014.29,1794],[2014.40,1811],[2014.51,1823],[2014.61,1804],[2014.72,1787],[2014.83,1809],[2014.94,1814],[2015.04,1824],
  [2015.15,1828],[2015.26,1830],[2015.37,1823],[2015.47,1833]];
const squares25S30S = [
  [2013.86,1791],[2014.67,1789],[2014.77,1799],[2014.88,1809],[2014.99,1801],[2015.15,1791],[2015.69,1823],[2015.80,1801],
  [2015.90,1806],[2016.01,1813],[2016.17,1814],[2016.33,1816],[2016.44,1828],[2016.60,1831],[2016.71,1823],[2016.76,1809],
  [2016.82,1799],[2016.87,1835],[2017.03,1833],[2017.30,1819]];

// ---- layout & drawing ---------------------------------------------------
const FONT = "'Liberation Serif', 'Times New Roman', 'DejaVu Serif', serif";
const INK = '#14110e';
const XMIN = 2005.742, XMAX = 2017.581;
const rowFrames = [[18, 175], [183, 340], [344, 505], [509, 667], [673, 831], [838, 995]];
const colLefts = [0, 412];
const CANVAS_W = 440, AXIS_W = 63, PAD_R = 10, PAD_TB = 16, XAXIS_H = 28;

const panels = [
  { label: '30N-25N', col: 0, row: 0, yMin: 1750.8, yMax: 1947.5, yTicks: yTicksTall,  model: model30N25N, dots: dots30N25N, squares: squares30N25N },
  { label: '25N-20N', col: 0, row: 1, yMin: 1751.0, yMax: 1919.7, yTicks: yTicksUpper, model: model25N20N, dots: dots25N20N, squares: squares25N20N },
  { label: '20N-15N', col: 0, row: 2, yMin: 1750.0, yMax: 1900.0, yTicks: yTicksUpper, model: model20N15N, dots: dots20N15N, squares: squares20N15N },
  { label: '15N-10N', col: 0, row: 3, yMin: 1750.4, yMax: 1889.3, yTicks: yTicksShort, model: model15N10N, dots: dots15N10N, squares: squares15N10N },
  { label: '10N-5N',  col: 0, row: 4, yMin: 1728.7, yMax: 1891.2, yTicks: yTicksLower, model: model10N5N,  dots: dots10N5N,  squares: squares10N5N },
  { label: '5N-EQ',   col: 0, row: 5, yMin: 1730.0, yMax: 1887.0, yTicks: yTicksLower, model: model5NEQ,   dots: dots5NEQ,   squares: squares5NEQ },
  { label: 'EQ-5S',   col: 1, row: 0, yMin: 1730.8, yMax: 1886.6, yTicks: yTicksLower, model: modelEQ5S,   dots: dotsEQ5S,   squares: squaresEQ5S },
  { label: '5S-10S',  col: 1, row: 1, yMin: 1729.0, yMax: 1888.5, yTicks: yTicksLower, model: model5S10S,  dots: dots5S10S,  squares: squares5S10S },
  { label: '10S-15S', col: 1, row: 2, yMin: 1726.5, yMax: 1888.7, yTicks: yTicksLower, model: model10S15S, dots: dots10S15S, squares: squares10S15S },
  { label: '15S-20S', col: 1, row: 3, yMin: 1725.9, yMax: 1886.2, yTicks: yTicksLower, model: model15S20S, dots: dots15S20S, squares: squares15S20S },
  { label: '20S-25S', col: 1, row: 4, yMin: 1726.2, yMax: 1886.5, yTicks: yTicksLower, model: model20S25S, dots: dots20S25S, squares: squares20S25S },
  { label: '25S-30S', col: 1, row: 5, yMin: 1728.1, yMax: 1887.4, yTicks: yTicksLower, model: model25S30S, dots: dots25S30S, squares: squares25S30S },
];

// frame, inward ticks, dash-dot season lines and the region name
const panelDecor = {
  id: 'panelDecor',
  beforeDatasetsDraw(chart) {
    const { ctx, chartArea: a, scales: { x } } = chart;
    ctx.save();
    ctx.strokeStyle = INK;
    ctx.lineWidth = 1.2;
    ctx.setLineDash([7, 2.5, 1.5, 2.5]);
    seasonLines.forEach(t => {
      const px = Math.round(x.getPixelForValue(t)) + 0.5;
      ctx.beginPath(); ctx.moveTo(px, a.top); ctx.lineTo(px, a.bottom); ctx.stroke();
    });
    ctx.restore();
  },
  afterDatasetsDraw(chart, args, opts) {
    const { ctx, chartArea: a, scales: { x, y } } = chart;
    const seg = (x1, y1, x2, y2) => { ctx.beginPath(); ctx.moveTo(x1, y1); ctx.lineTo(x2, y2); ctx.stroke(); };
    ctx.save();
    ctx.strokeStyle = INK;
    ctx.lineWidth = 1.4;
    for (let v = Math.ceil(y.min / 20) * 20; v <= y.max; v += 20) {
      const len = (v - 1740) % 40 === 0 ? 15 : 8;
      const py = Math.round(y.getPixelForValue(v)) + 0.5;
      seg(a.left, py, a.left + len, py);
      seg(a.right, py, a.right - len, py);
    }
    for (let k = -5; k < 70; k++) {
      const t = seasonLines[0] + k * 0.2;
      if (t < XMIN || t > XMAX) continue;
      const len = k % 5 === 0 ? 9 : 5;
      const px = Math.round(x.getPixelForValue(t)) + 0.5;
      seg(px, a.top, px, a.top + len);
      seg(px, a.bottom, px, a.bottom - len);
    }
    ctx.lineWidth = 2;
    ctx.strokeRect(a.left, a.top, a.right - a.left, a.bottom - a.top);
    ctx.fillStyle = INK;
    ctx.font = `bold 17px ${FONT}`;
    ctx.textBaseline = 'middle';
    ctx.textAlign = 'left';
    if ('letterSpacing' in ctx) ctx.letterSpacing = '1px';
    ctx.fillText(opts.label, a.left + opts.dx, a.top + opts.dy);
    ctx.restore();
  }
};

const toPts = arr => arr.map(([t, v]) => ({ x: t, y: v }));
const stage = document.getElementById('stage');

// right column first so the left column's frames sit above its axis title
[...panels].sort((p, q) => q.col - p.col).forEach(p => {
  const [T, B] = rowFrames[p.row];
  const bottomRow = p.row === rowFrames.length - 1;
  const padBottom = bottomRow ? 0 : PAD_TB;
  const xH = bottomRow ? XAXIS_H : 0;
  const canvas = document.createElement('canvas');
  canvas.width = CANVAS_W;
  canvas.height = (B - T) + PAD_TB + padBottom + xH;
  canvas.style.left = colLefts[p.col] + 'px';
  canvas.style.top = (T - PAD_TB) + 'px';
  canvas.style.width = CANVAS_W + 'px';
  canvas.style.height = canvas.height + 'px';
  stage.appendChild(canvas);

  const modelPts = p.model.map((v, i) => ({ x: MODEL_START + i / 12, y: v }));

  new Chart(canvas, {
    type: 'scatter',
    data: {
      datasets: [
        { data: modelPts, showLine: true, borderColor: INK, borderWidth: 1.7, pointRadius: 0, tension: 0, order: 3, clip: 0 },
        { data: toPts(p.dots), pointStyle: 'circle', pointRadius: 3.4, backgroundColor: INK, borderWidth: 0, order: 2, clip: 0 },
        { data: toPts(p.squares), pointStyle: 'rect', pointRadius: 4.6, backgroundColor: '#fff', borderColor: INK, borderWidth: 1.3, order: 1, clip: 0 }
      ]
    },
    options: {
      responsive: false,
      animation: false,
      devicePixelRatio: 1,
      events: [],
      layout: { padding: { left: 0, right: PAD_R, top: PAD_TB, bottom: padBottom } },
      plugins: {
        legend: { display: false },
        tooltip: { enabled: false },
        panelDecor: { label: p.label, dx: p.col ? 35 : 31, dy: p.row === 2 ? 23 : 20 }
      },
      scales: {
        x: {
          type: 'linear', min: XMIN, max: XMAX,
          afterBuildTicks: s => { s.ticks = xLabelYears.map(v => ({ value: v })); },
          ticks: { display: bottomRow, autoSkip: false, maxRotation: 0, padding: 4, color: INK,
                   font: { family: FONT, size: 20, weight: 'bold' }, callback: v => String(v) },
          grid: { display: false, drawTicks: false },
          border: { display: false },
          afterFit: s => { s.height = xH; }
        },
        y: {
          type: 'linear', min: p.yMin, max: p.yMax,
          afterBuildTicks: s => { s.ticks = p.yTicks.map(v => ({ value: v })); },
          ticks: { padding: 3, color: INK, font: { family: FONT, size: 15, weight: 'bold' }, callback: v => String(v) },
          grid: { display: false, drawTicks: false },
          border: { display: false },
          title: { display: true, text: 'CH4 (ppb)', color: INK, padding: { top: 8, bottom: 0 },
                   font: { family: FONT, size: 16, weight: 'bold' } },
          afterFit: s => { s.width = AXIS_W; }
        }
      }
    },
    plugins: [panelDecor]
  });
});
</script>
</body>
</html>
